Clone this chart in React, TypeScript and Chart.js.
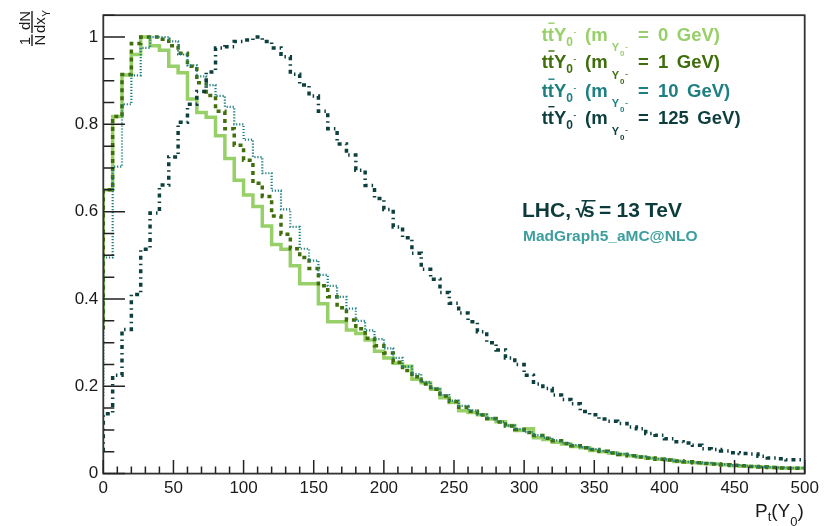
import React, { useEffect, useRef } from 'react';
import { Chart, registerables } from 'chart.js';

Chart.register(...registerables);

// ---- data ----
const X_MIN = 0;
const X_MAX = 500;
const xTickValues = [0, 50, 100, 150, 200, 250, 300, 350, 400, 450, 500];
const yTickValues = [0, 0.2, 0.4, 0.6, 0.8, 1];
const massLabels = ['0', '1', '10', '125'];

// 75 bins of width 500/75 GeV
const m0 = [
  0.344, 0.65, 0.818, 0.913, 0.96, 1.0, 0.98, 0.97, 0.933, 0.918,
  0.858, 0.827, 0.816, 0.774, 0.722, 0.672, 0.638, 0.612, 0.567, 0.525,
  0.514, 0.476, 0.435, 0.435, 0.389, 0.348, 0.348, 0.329, 0.321, 0.306,
  0.28, 0.265, 0.253, 0.246, 0.216, 0.208, 0.193, 0.174, 0.163, 0.144,
  0.14, 0.135, 0.125, 0.119, 0.11, 0.099, 0.103, 0.082, 0.078, 0.072,
  0.068, 0.062, 0.059, 0.053, 0.05, 0.047, 0.044, 0.041, 0.038, 0.035,
  0.033, 0.031, 0.028, 0.026, 0.025, 0.023, 0.022, 0.02, 0.018, 0.017,
  0.016, 0.015, 0.014, 0.013, 0.012,
];
const m1 = [
  0.33, 0.65, 0.818, 0.914, 0.985, 1.0, 1.0, 0.995, 0.98, 0.963,
  0.933, 0.895, 0.866, 0.83, 0.79, 0.752, 0.718, 0.665, 0.635, 0.59,
  0.548, 0.515, 0.495, 0.47, 0.43, 0.405, 0.38, 0.352, 0.332, 0.31,
  0.293, 0.276, 0.255, 0.236, 0.222, 0.205, 0.193, 0.178, 0.165, 0.152,
  0.143, 0.134, 0.126, 0.118, 0.109, 0.101, 0.094, 0.087, 0.081, 0.075,
  0.069, 0.064, 0.059, 0.055, 0.051, 0.047, 0.044, 0.041, 0.038, 0.036,
  0.033, 0.031, 0.029, 0.027, 0.025, 0.023, 0.022, 0.02, 0.019, 0.018,
  0.016, 0.015, 0.014, 0.013, 0.012,
];
const m10 = [
  0.178, 0.495, 0.703, 0.846, 0.912, 0.975, 1.0, 1.0, 0.99, 0.96,
  0.935, 0.91, 0.89, 0.865, 0.84, 0.8, 0.765, 0.725, 0.688, 0.648,
  0.605, 0.565, 0.515, 0.488, 0.455, 0.43, 0.405, 0.378, 0.35, 0.328,
  0.308, 0.287, 0.265, 0.245, 0.228, 0.21, 0.196, 0.18, 0.167, 0.155,
  0.145, 0.135, 0.127, 0.119, 0.11, 0.102, 0.095, 0.088, 0.082, 0.076,
  0.07, 0.065, 0.06, 0.056, 0.052, 0.048, 0.045, 0.042, 0.039, 0.036,
  0.034, 0.032, 0.029, 0.027, 0.025, 0.024, 0.022, 0.021, 0.019, 0.018,
  0.017, 0.016, 0.015, 0.014, 0.013,
];
const m125 = [
  0.05, 0.137, 0.225, 0.33, 0.41, 0.514, 0.597, 0.661, 0.725, 0.805,
  0.846, 0.875, 0.92, 0.975, 0.978, 0.99, 0.993, 1.0, 0.99, 0.975,
  0.955, 0.915, 0.89, 0.865, 0.83, 0.79, 0.755, 0.73, 0.695, 0.66,
  0.63, 0.605, 0.565, 0.54, 0.505, 0.468, 0.445, 0.415, 0.39, 0.368,
  0.348, 0.325, 0.3, 0.283, 0.265, 0.25, 0.225, 0.205, 0.195, 0.18,
  0.17, 0.16, 0.142, 0.135, 0.125, 0.12, 0.115, 0.107, 0.103, 0.092,
  0.088, 0.08, 0.073, 0.07, 0.065, 0.057, 0.055, 0.052, 0.048, 0.046,
  0.045, 0.04, 0.036, 0.034, 0.032,
];

const COLORS = ['#97cf68', '#3f6e0b', '#1d7f80', '#0d3f3e'];

const toSteps = (vals: number[]) => {
  const w = (X_MAX - X_MIN) / vals.length;
  const pts = vals.map((v, i) => ({ x: X_MIN + i * w, y: v }));
  pts.push({ x: X_MAX, y: vals[vals.length - 1] });
  return pts;
};

const SANS = '"Liberation Sans", Arial, Helvetica, sans-serif';

function drawLegendLine(ctx: CanvasRenderingContext2D, x0: number, base: number, color: string, mass: string) {
  const F = `bold 18.5px ${SANS}`;
  ctx.fillStyle = color;
  ctx.textAlign = 'left';
  ctx.textBaseline = 'alphabetic';
  ctx.font = F;
  const tw = ctx.measureText('t').width;
  ctx.fillText('t', x0, base);
  ctx.fillText('t', x0 + tw, base);
  ctx.fillRect(x0 + tw + 0.5, base - 18, tw, 1.4);
  let x = x0 + 2 * tw;
  ctx.fillText('Y', x, base);
  x += ctx.measureText('Y').width;
  ctx.font = `bold 12px ${SANS}`;
  ctx.fillText('0', x, base + 5);
  const zw = ctx.measureText('0').width;
  ctx.font = `bold 8px ${SANS}`;
  ctx.fillText('-', x + zw + 0.5, base - 7);
  ctx.font = F;
  ctx.fillText('(m', x0 + 43.3, base);
  ctx.font = `bold 11px ${SANS}`;
  ctx.fillText('Y', x0 + 70, base + 10.5);
  ctx.font = `bold 8px ${SANS}`;
  ctx.fillText('0', x0 + 78.3, base + 15.5);
  ctx.fillText('-', x0 + 83.5, base + 8);
  ctx.font = F;
  ctx.fillText('=', x0 + 96.3, base);
  ctx.fillText(mass, x0 + 116.3, base);
  const mw = ctx.measureText(mass).width;
  ctx.fillText('GeV)', x0 + 116.3 + mw + 8.5, base);
}

const decorPlugin = {
  id: 'rootDecor',
  afterDraw(chart: any) {
    const ctx: CanvasRenderingContext2D = chart.ctx;
    const { left, right, top, bottom } = chart.chartArea;
    const xs = chart.scales.x;
    const ys = chart.scales.y;
    ctx.save();
    // frame
    ctx.strokeStyle = '#333333';
    ctx.lineWidth = 1.8;
    ctx.strokeRect(left, top, right - left, bottom - top);
    // ticks inside
    ctx.strokeStyle = '#222222';
    ctx.lineWidth = 1.5;
    ctx.beginPath();
    for (let k = 0; k <= 21; k++) {
      const v = k * 0.05;
      if (v > ys.max + 1e-9) break;
      const py = ys.getPixelForValue(v);
      const len = k % 4 === 0 ? 21.7 : 11;
      ctx.moveTo(left, py);
      ctx.lineTo(left + len, py);
    }
    for (let k = 0; k <= 50; k++) {
      const v = k * 10;
      const px = xs.getPixelForValue(v);
      const len = k % 5 === 0 ? 13.5 : 7;
      ctx.moveTo(px, bottom);
      ctx.lineTo(px, bottom - len);
    }
    ctx.stroke();

    // y title: 1/N dN/dx_Y (rotated)
    ctx.save();
    ctx.translate(32, 46);
    ctx.rotate(-Math.PI / 2);
    ctx.fillStyle = '#1a1a1a';
    ctx.font = `15px ${SANS}`;
    ctx.textBaseline = 'alphabetic';
    ctx.textAlign = 'center';
    ctx.fillText('1', 5, -2.5);
    ctx.fillText('N', 6, 13);
    ctx.fillText('dN', 25.5, -2.5);
    ctx.fillRect(0, -0.7, 11.5, 1.4);
    ctx.fillRect(13, -0.7, 22, 1.4);
    ctx.textAlign = 'left';
    ctx.fillText('dx', 13, 13);
    const dxw = ctx.measureText('dx').width;
    ctx.font = `10px ${SANS}`;
    ctx.fillText('Y', 13 + dxw + 0.5, 18);
    ctx.restore();

    // x title: P_t(Y_0)
    ctx.fillStyle = '#1a1a1a';
    ctx.textAlign = 'left';
    ctx.textBaseline = 'alphabetic';
    let x = 755;
    const big = `19px ${SANS}`;
    const small = `13px ${SANS}`;
    ctx.font = big;
    ctx.fillText('P', x, 517);
    x += ctx.measureText('P').width;
    ctx.font = small;
    ctx.fillText('t', x, 521);
    x += ctx.measureText('t').width;
    ctx.font = big;
    ctx.fillText('(Y', x, 517);
    x += ctx.measureText('(Y').width;
    ctx.font = small;
    ctx.fillText('0', x, 526);
    x += ctx.measureText('0').width;
    ctx.font = big;
    ctx.fillText(')', x, 517);

    // legend
    const bases = [40.5, 68.3, 96.5, 124];
    massLabels.forEach((m, i) => drawLegendLine(ctx, 541.7, bases[i], COLORS[i], m));

    // LHC text
    ctx.fillStyle = '#0d3b3b';
    ctx.font = `bold 21px ${SANS}`;
    ctx.fillText('LHC,', 522, 217.3);
    ctx.fillText('\u221A', 575.5, 217.3);
    ctx.fillText('s', 583, 217.3);
    ctx.fillRect(581.5, 200, 14, 1.5);
    ctx.fillText('=', 599, 217.3);
    ctx.fillText('13', 616.5, 217.3);
    ctx.fillText('TeV', 645, 217.3);

    ctx.fillStyle = '#3d9e9e';
    ctx.font = `bold 15.5px ${SANS}`;
    ctx.fillText('MadGraph5_aMC@NLO', 523, 240.5);
    ctx.restore();
  },
};

export default function App() {
  const ref = useRef<HTMLCanvasElement>(null);
  useEffect(() => {
    const canvas = ref.current;
    if (!canvas) return;
    const series = [m0, m1, m10, m125];
    const widths = [3.5, 3.5, 2.2, 3.5];
    const dashes = [[], [4, 4], [1.2, 1.8], [4, 4, 1.5, 4]];
    const orders = [4, 3, 2, 1];
    const chart = new Chart(canvas, {
      type: 'line',
      data: {
        datasets: series.map((s, i) => ({
          label: `m = ${massLabels[i]} GeV`,
          data: toSteps(s),
          stepped: 'after' as const,
          borderColor: COLORS[i],
          backgroundColor: COLORS[i],
          borderWidth: widths[i],
          borderDash: dashes[i],
          pointRadius: 0,
          fill: false,
          tension: 0,
          order: orders[i],
        })),
      },
      options: {
        animation: false,
        responsive: false,
        devicePixelRatio: 1,
        layout: { padding: { top: 10, right: 28.3, left: 0, bottom: 0 } },
        plugins: { legend: { display: false }, tooltip: { enabled: false } },
        scales: {
          x: {
            type: 'linear',
            min: X_MIN,
            max: X_MAX,
            afterFit: (s: any) => { s.height = 52.4; },
            afterBuildTicks: (s: any) => { s.ticks = xTickValues.map((v) => ({ value: v })); },
            grid: { display: false, drawTicks: false },
            border: { display: false },
            ticks: {
              padding: 5,
              maxRotation: 0,
              autoSkip: false,
              color: '#1a1a1a',
              font: { family: SANS, size: 17 },
              callback: (v: any) => String(v),
            },
          },
          y: {
            type: 'linear',
            min: 0,
            max: 1.05,
            afterFit: (s: any) => { s.width = 103.3; },
            afterBuildTicks: (s: any) => { s.ticks = yTickValues.map((v) => ({ value: v })); },
            grid: { display: false, drawTicks: false },
            border: { display: false },
            ticks: {
              padding: 5,
              color: '#1a1a1a',
              font: { family: SANS, size: 17 },
              callback: (v: any) => {
                const r = Math.round(Number(v) * 10) / 10;
                return r === 0 ? '0' : r === 1 ? '1' : r.toFixed(1);
              },
            },
          },
        },
      },
      plugins: [decorPlugin],
    } as any);
    return () => chart.destroy();
  }, []);
  return (
    <div style={{ position: 'fixed', left: 0, top: 0, width: 833, height: 526, background: '#ffffff' }}>
      <canvas ref={ref} width={833} height={526} style={{ display: 'block', width: 833, height: 526 }} />
    </div>
  );
}
